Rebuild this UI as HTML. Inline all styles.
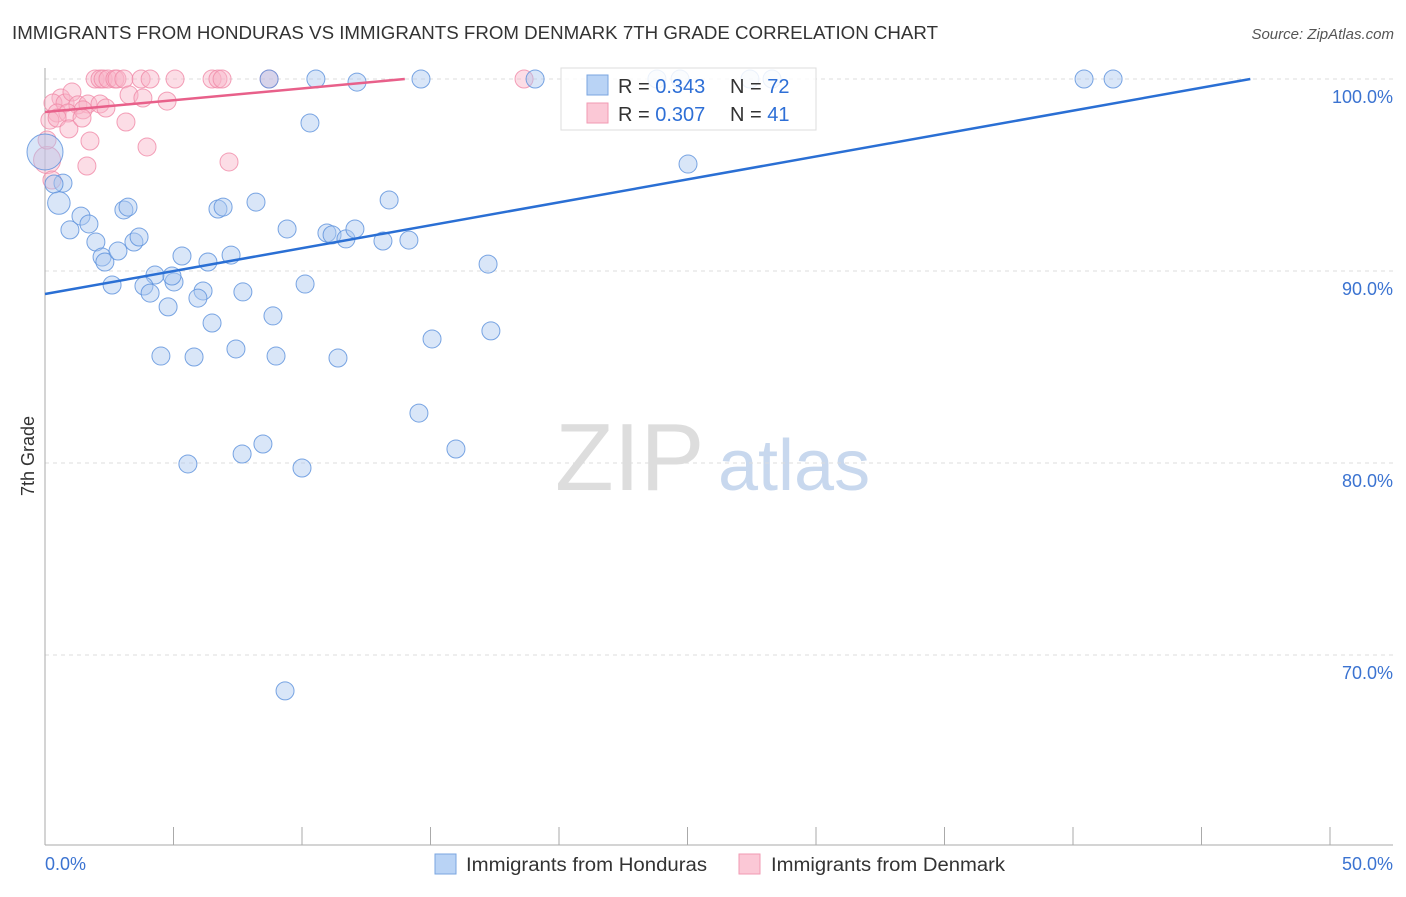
<!DOCTYPE html>
<html><head><meta charset="utf-8"><style>
body{margin:0;background:#fff;font-family:"Liberation Sans",sans-serif}
svg text{font-family:"Liberation Sans",sans-serif}
</style></head><body>
<svg id="chart" width="1406" height="892" xmlns="http://www.w3.org/2000/svg">
<text x="12" y="39" font-size="18" fill="#333" textLength="926" lengthAdjust="spacingAndGlyphs">IMMIGRANTS FROM HONDURAS VS IMMIGRANTS FROM DENMARK 7TH GRADE CORRELATION CHART</text>
<text x="1394" y="39" font-size="15" fill="#555" text-anchor="end" font-style="italic">Source: ZipAtlas.com</text>
<g>
<text x="555" y="490" font-size="96" fill="#ddd" font-family="Liberation Serif">ZIP</text>
<text x="718" y="490" font-size="72" fill="#c8d8ee">atlas</text>
</g>
<g id="grid"></g>
<g id="axes"></g>
<g id="marks"></g>
<text transform="translate(34,456) rotate(-90)" font-size="18" fill="#333" text-anchor="middle">7th Grade</text>
<g>
<rect x="561" y="68" width="255" height="62" fill="#fff" fill-opacity="0.85" stroke="#ddd"/>
<rect x="587" y="75" width="21" height="20" fill="#b9d3f5" stroke="#7aa6e0"/>
<rect x="587" y="103" width="21" height="20" fill="#fbc8d6" stroke="#f19ab3"/>
<text x="618" y="93" font-size="20" fill="#333">R = <tspan fill="#2e6fd6">0.343</tspan></text>
<text x="730" y="93" font-size="20" fill="#333">N = <tspan fill="#2e6fd6">72</tspan></text>
<text x="618" y="121" font-size="20" fill="#333">R = <tspan fill="#2e6fd6">0.307</tspan></text>
<text x="730" y="121" font-size="20" fill="#333">N = <tspan fill="#2e6fd6"> 41</tspan></text>
</g>
<g>
<rect x="435" y="854" width="21" height="20" fill="#b9d3f5" stroke="#7aa6e0"/>
<text x="466" y="871" font-size="19" fill="#333" textLength="241" lengthAdjust="spacingAndGlyphs">Immigrants from Honduras</text>
<rect x="739" y="854" width="21" height="20" fill="#fbc8d6" stroke="#f19ab3"/>
<text x="771" y="871" font-size="19" fill="#333" textLength="234" lengthAdjust="spacingAndGlyphs">Immigrants from Denmark</text>
</g>
</svg>
<script>
const blueX=[8.72,10.54,14.63,19.07,23.81,24.71,27.43,28.29,40.43,41.56,12.14,10.31,25.02,0,0.70,0.35,0.54,0.97,1.40,1.71,3.07,3.23,6.73,6.93,8.21,13.39,1.98,2.22,2.33,2.84,3.46,3.66,5.33,6.34,7.24,9.42,10.97,11.17,11.71,12.06,13.15,14.16,17.24,4.28,3.85,2.61,4.09,5.02,4.94,6.15,5.95,7.70,10.12,4.79,6.50,8.87,17.35,15.06,7.43,4.51,5.80,8.99,11.40,14.55,8.48,7.67,5.56,10.00,15.99,9.34];
const blueY=[100,100,100,100,100,100,100,100,100,100,99.84,97.71,95.57,96.2,94.58,94.53,93.54,92.14,92.86,92.45,93.18,93.33,93.23,93.33,93.59,93.70,91.51,90.73,90.47,91.04,91.51,91.77,90.78,90.47,90.83,92.19,91.98,91.88,91.67,92.19,91.56,91.61,90.36,89.79,89.22,89.27,88.85,89.43,89.74,88.96,88.59,88.91,89.32,88.13,87.29,87.66,86.88,86.46,85.94,85.57,85.52,85.57,85.47,82.60,80.99,80.47,79.95,79.74,80.73,68.13];
const blueW=blueX.map((_,i)=>i===13?2.0:(i===16?1.25:1));
const pinkX=[1.95,2.14,2.26,2.45,2.72,2.80,3.07,3.74,4.09,5.06,6.50,6.73,6.89,8.72,18.64,0.62,0.31,0.78,1.05,1.28,0.47,0.89,1.67,1.48,2.14,2.37,3.27,3.81,4.75,0.19,0.47,0.93,1.44,3.15,1.75,3.97,1.63,7.16,0.08,0.08,0.27];
const pinkY=[100,100,100,100,100,100,100,100,100,100,100,100,100,100,100,99.01,98.75,98.75,99.32,98.65,98.23,98.23,98.70,98.39,98.70,98.49,99.17,99.01,98.85,97.86,97.97,97.40,97.97,97.76,96.77,96.46,95.47,95.68,95.78,96.82,94.74];
const pinkW=pinkX.map((_,i)=>i===38?1.5:1);
const blueFit=[[0,88.8],[46.9,100]];
const pinkFit=[[0,98.28],[14.0,100]];
const yTicks=[100,90,80,70];
const yTickLabels=["100.0%","90.0%","80.0%","70.0%"];
const xTicks=[0,5,10,15,20,25,30,35,40,45,50];

const NS="http://www.w3.org/2000/svg";
const sx=v=>45+v*25.7;
const sy=v=>79+(100-v)*19.2;
function mk(tag,attrs,parent){const e=document.createElementNS(NS,tag);for(const k in attrs)e.setAttribute(k,attrs[k]);parent.appendChild(e);return e;}
const grid=document.getElementById('grid'),axes=document.getElementById('axes'),marks=document.getElementById('marks');
yTicks.forEach((t,i)=>{
  const l=mk('line',{x1:45,x2:1393,y1:sy(t),y2:sy(t),stroke:'#ddd','stroke-dasharray':'4,4'},grid);
  
  
  const tx=mk('text',{x:1393,y:sy(t)+24,'font-size':18,fill:'#3b73d1','text-anchor':'end'},axes);
  tx.textContent=yTickLabels[i];
  
  
});
const la=mk('line',{x1:45,x2:45,y1:68,y2:845,stroke:'#aaa'},axes);


const ba=mk('line',{x1:45,x2:1393,y1:845,y2:845,stroke:'#aaa'},axes);


xTicks.forEach(t=>{
  const l=mk('line',{x1:sx(t),x2:sx(t),y1:827,y2:845,stroke:'#aaa'},axes);
  
  
});
const xl0=mk('text',{x:45,y:870,'font-size':18,fill:'#3b73d1'},axes);xl0.textContent="0.0%";


const xl1=mk('text',{x:1393,y:870,'font-size':18,fill:'#3b73d1','text-anchor':'end'},axes);xl1.textContent="50.0%";



function pts(X,Y,W,fill,stroke,name){
  X.forEach((x,i)=>{
    const c=mk('circle',{cx:sx(x),cy:sy(Y[i]),r:9*W[i],fill:fill,stroke:stroke,'stroke-width':1,'fill-opacity':0.45,'stroke-opacity':0.8},marks);
    
    
  });
}
pts(pinkX,pinkY,pinkW,'#f8b4c8','#f08aa8','point-denmark');
pts(blueX,blueY,blueW,'#aac8f0','#5a90dc','point-honduras');
const bl=mk('line',{x1:sx(blueFit[0][0]),y1:sy(blueFit[0][1]),x2:sx(blueFit[1][0]),y2:sy(blueFit[1][1]),stroke:'#2a6fd4','stroke-width':2.5},marks);


const pl=mk('line',{x1:sx(pinkFit[0][0]),y1:sy(pinkFit[0][1]),x2:sx(pinkFit[1][0]),y2:sy(pinkFit[1][1]),stroke:'#e8608a','stroke-width':2.5},marks);


</script>
</body></html>
